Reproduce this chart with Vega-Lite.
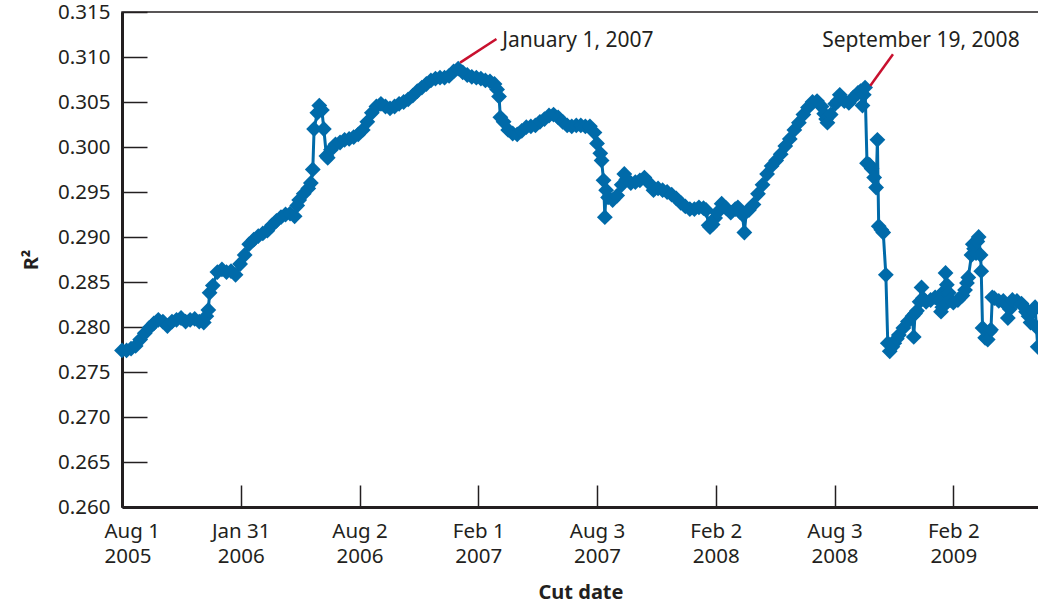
{
  "$schema": "https://vega.github.io/schema/vega-lite/v6.json",
  "width": 917,
  "height": 495,
  "autosize": {"type": "none"},
  "padding": {"left": 122, "top": 12, "right": 0, "bottom": 99},
  "background": "white",
  "config": {
    "font": "Noto Sans",
    "view": {"stroke": "#231f20", "strokeWidth": 1.5},
    "axis": {
      "labelFont": "Noto Sans",
      "labelFontSize": 20.5,
      "labelColor": "#231f20",
      "titleFont": "Noto Sans",
      "titleFontSize": 20,
      "titleFontWeight": "bold",
      "titleColor": "#231f20",
      "domainColor": "#231f20",
      "domainWidth": 3,
      "tickColor": "#231f20",
      "tickWidth": 1.5,
      "grid": false
    }
  },
  "datasets": {
    "series": [
      {"date": "2005-08-01", "r2": 0.2774},
      {"date": "2005-08-08", "r2": 0.2774},
      {"date": "2005-08-15", "r2": 0.2776},
      {"date": "2005-08-22", "r2": 0.2779},
      {"date": "2005-08-29", "r2": 0.2786},
      {"date": "2005-09-05", "r2": 0.2793},
      {"date": "2005-09-12", "r2": 0.2799},
      {"date": "2005-09-19", "r2": 0.2804},
      {"date": "2005-09-26", "r2": 0.2808},
      {"date": "2005-10-03", "r2": 0.2806},
      {"date": "2005-10-10", "r2": 0.2801},
      {"date": "2005-10-17", "r2": 0.2806},
      {"date": "2005-10-24", "r2": 0.2808},
      {"date": "2005-10-31", "r2": 0.2810},
      {"date": "2005-11-07", "r2": 0.2806},
      {"date": "2005-11-14", "r2": 0.2808},
      {"date": "2005-11-21", "r2": 0.2809},
      {"date": "2005-11-28", "r2": 0.2806},
      {"date": "2005-12-05", "r2": 0.2805},
      {"date": "2005-12-09", "r2": 0.2812},
      {"date": "2005-12-12", "r2": 0.2819},
      {"date": "2005-12-14", "r2": 0.2838},
      {"date": "2005-12-19", "r2": 0.2846},
      {"date": "2005-12-26", "r2": 0.2861},
      {"date": "2006-01-02", "r2": 0.2864},
      {"date": "2006-01-09", "r2": 0.2861},
      {"date": "2006-01-16", "r2": 0.2862},
      {"date": "2006-01-23", "r2": 0.2858},
      {"date": "2006-01-30", "r2": 0.2870},
      {"date": "2006-02-06", "r2": 0.2880},
      {"date": "2006-02-13", "r2": 0.2892},
      {"date": "2006-02-20", "r2": 0.2897},
      {"date": "2006-02-27", "r2": 0.2901},
      {"date": "2006-03-06", "r2": 0.2904},
      {"date": "2006-03-13", "r2": 0.2907},
      {"date": "2006-03-20", "r2": 0.2913},
      {"date": "2006-03-27", "r2": 0.2918},
      {"date": "2006-04-03", "r2": 0.2922},
      {"date": "2006-04-10", "r2": 0.2925},
      {"date": "2006-04-17", "r2": 0.2926},
      {"date": "2006-04-24", "r2": 0.2923},
      {"date": "2006-04-28", "r2": 0.2935},
      {"date": "2006-05-01", "r2": 0.2941},
      {"date": "2006-05-08", "r2": 0.2948},
      {"date": "2006-05-15", "r2": 0.2954},
      {"date": "2006-05-19", "r2": 0.2960},
      {"date": "2006-05-22", "r2": 0.2975},
      {"date": "2006-05-24", "r2": 0.3020},
      {"date": "2006-05-29", "r2": 0.3038},
      {"date": "2006-06-01", "r2": 0.3046},
      {"date": "2006-06-05", "r2": 0.3041},
      {"date": "2006-06-08", "r2": 0.3020},
      {"date": "2006-06-12", "r2": 0.2990},
      {"date": "2006-06-14", "r2": 0.2988},
      {"date": "2006-06-19", "r2": 0.2997},
      {"date": "2006-06-26", "r2": 0.3003},
      {"date": "2006-07-03", "r2": 0.3005},
      {"date": "2006-07-10", "r2": 0.3008},
      {"date": "2006-07-17", "r2": 0.3009},
      {"date": "2006-07-24", "r2": 0.3011},
      {"date": "2006-07-31", "r2": 0.3014},
      {"date": "2006-08-07", "r2": 0.3019},
      {"date": "2006-08-14", "r2": 0.3028},
      {"date": "2006-08-21", "r2": 0.3038},
      {"date": "2006-08-28", "r2": 0.3045},
      {"date": "2006-09-04", "r2": 0.3048},
      {"date": "2006-09-11", "r2": 0.3045},
      {"date": "2006-09-18", "r2": 0.3043},
      {"date": "2006-09-25", "r2": 0.3045},
      {"date": "2006-10-02", "r2": 0.3048},
      {"date": "2006-10-09", "r2": 0.3050},
      {"date": "2006-10-16", "r2": 0.3053},
      {"date": "2006-10-23", "r2": 0.3057},
      {"date": "2006-10-30", "r2": 0.3062},
      {"date": "2006-11-06", "r2": 0.3066},
      {"date": "2006-11-13", "r2": 0.3070},
      {"date": "2006-11-20", "r2": 0.3074},
      {"date": "2006-11-27", "r2": 0.3076},
      {"date": "2006-12-04", "r2": 0.3077},
      {"date": "2006-12-11", "r2": 0.3077},
      {"date": "2006-12-18", "r2": 0.3079},
      {"date": "2006-12-25", "r2": 0.3084},
      {"date": "2007-01-01", "r2": 0.3087},
      {"date": "2007-01-08", "r2": 0.3083},
      {"date": "2007-01-15", "r2": 0.3080},
      {"date": "2007-01-22", "r2": 0.3078},
      {"date": "2007-01-29", "r2": 0.3077},
      {"date": "2007-02-05", "r2": 0.3076},
      {"date": "2007-02-12", "r2": 0.3074},
      {"date": "2007-02-19", "r2": 0.3073},
      {"date": "2007-02-26", "r2": 0.3070},
      {"date": "2007-03-02", "r2": 0.3064},
      {"date": "2007-03-05", "r2": 0.3056},
      {"date": "2007-03-07", "r2": 0.3033},
      {"date": "2007-03-12", "r2": 0.3028},
      {"date": "2007-03-19", "r2": 0.3019},
      {"date": "2007-03-26", "r2": 0.3015},
      {"date": "2007-04-02", "r2": 0.3014},
      {"date": "2007-04-09", "r2": 0.3018},
      {"date": "2007-04-16", "r2": 0.3022},
      {"date": "2007-04-23", "r2": 0.3023},
      {"date": "2007-04-30", "r2": 0.3024},
      {"date": "2007-05-07", "r2": 0.3028},
      {"date": "2007-05-14", "r2": 0.3031},
      {"date": "2007-05-21", "r2": 0.3035},
      {"date": "2007-05-28", "r2": 0.3036},
      {"date": "2007-06-04", "r2": 0.3033},
      {"date": "2007-06-11", "r2": 0.3028},
      {"date": "2007-06-18", "r2": 0.3024},
      {"date": "2007-06-25", "r2": 0.3023},
      {"date": "2007-07-02", "r2": 0.3024},
      {"date": "2007-07-09", "r2": 0.3024},
      {"date": "2007-07-16", "r2": 0.3023},
      {"date": "2007-07-23", "r2": 0.3023},
      {"date": "2007-07-30", "r2": 0.3016},
      {"date": "2007-08-03", "r2": 0.3004},
      {"date": "2007-08-08", "r2": 0.2993},
      {"date": "2007-08-10", "r2": 0.2985},
      {"date": "2007-08-13", "r2": 0.2963},
      {"date": "2007-08-15", "r2": 0.2922},
      {"date": "2007-08-17", "r2": 0.2952},
      {"date": "2007-08-20", "r2": 0.2944},
      {"date": "2007-08-27", "r2": 0.2941},
      {"date": "2007-09-03", "r2": 0.2946},
      {"date": "2007-09-10", "r2": 0.2958},
      {"date": "2007-09-14", "r2": 0.2970},
      {"date": "2007-09-17", "r2": 0.2964},
      {"date": "2007-09-24", "r2": 0.2960},
      {"date": "2007-10-01", "r2": 0.2961},
      {"date": "2007-10-08", "r2": 0.2963},
      {"date": "2007-10-15", "r2": 0.2966},
      {"date": "2007-10-22", "r2": 0.2960},
      {"date": "2007-10-29", "r2": 0.2952},
      {"date": "2007-11-05", "r2": 0.2954},
      {"date": "2007-11-12", "r2": 0.2952},
      {"date": "2007-11-19", "r2": 0.2950},
      {"date": "2007-11-26", "r2": 0.2947},
      {"date": "2007-12-03", "r2": 0.2943},
      {"date": "2007-12-10", "r2": 0.2938},
      {"date": "2007-12-17", "r2": 0.2934},
      {"date": "2007-12-24", "r2": 0.2931},
      {"date": "2007-12-31", "r2": 0.2931},
      {"date": "2008-01-07", "r2": 0.2933},
      {"date": "2008-01-14", "r2": 0.2932},
      {"date": "2008-01-18", "r2": 0.2930},
      {"date": "2008-01-22", "r2": 0.2913},
      {"date": "2008-01-24", "r2": 0.2911},
      {"date": "2008-01-28", "r2": 0.2914},
      {"date": "2008-02-01", "r2": 0.2921},
      {"date": "2008-02-04", "r2": 0.2927},
      {"date": "2008-02-11", "r2": 0.2937},
      {"date": "2008-02-18", "r2": 0.2932},
      {"date": "2008-02-25", "r2": 0.2927},
      {"date": "2008-03-03", "r2": 0.2931},
      {"date": "2008-03-07", "r2": 0.2933},
      {"date": "2008-03-10", "r2": 0.2928},
      {"date": "2008-03-14", "r2": 0.2925},
      {"date": "2008-03-17", "r2": 0.2905},
      {"date": "2008-03-20", "r2": 0.2928},
      {"date": "2008-03-24", "r2": 0.2930},
      {"date": "2008-03-31", "r2": 0.2936},
      {"date": "2008-04-07", "r2": 0.2948},
      {"date": "2008-04-14", "r2": 0.2958},
      {"date": "2008-04-21", "r2": 0.2970},
      {"date": "2008-04-28", "r2": 0.2979},
      {"date": "2008-05-05", "r2": 0.2985},
      {"date": "2008-05-12", "r2": 0.2992},
      {"date": "2008-05-19", "r2": 0.3001},
      {"date": "2008-05-26", "r2": 0.3009},
      {"date": "2008-06-02", "r2": 0.3019},
      {"date": "2008-06-09", "r2": 0.3027},
      {"date": "2008-06-16", "r2": 0.3036},
      {"date": "2008-06-23", "r2": 0.3044},
      {"date": "2008-06-30", "r2": 0.3050},
      {"date": "2008-07-07", "r2": 0.3051},
      {"date": "2008-07-14", "r2": 0.3045},
      {"date": "2008-07-18", "r2": 0.3037},
      {"date": "2008-07-21", "r2": 0.3031},
      {"date": "2008-07-23", "r2": 0.3027},
      {"date": "2008-07-28", "r2": 0.3036},
      {"date": "2008-08-04", "r2": 0.3048},
      {"date": "2008-08-08", "r2": 0.3051},
      {"date": "2008-08-11", "r2": 0.3058},
      {"date": "2008-08-18", "r2": 0.3051},
      {"date": "2008-08-25", "r2": 0.3049},
      {"date": "2008-09-01", "r2": 0.3055},
      {"date": "2008-09-08", "r2": 0.3060},
      {"date": "2008-09-12", "r2": 0.3062},
      {"date": "2008-09-15", "r2": 0.3046},
      {"date": "2008-09-17", "r2": 0.3058},
      {"date": "2008-09-19", "r2": 0.3066},
      {"date": "2008-09-22", "r2": 0.2982},
      {"date": "2008-09-26", "r2": 0.2980},
      {"date": "2008-09-29", "r2": 0.2976},
      {"date": "2008-10-03", "r2": 0.2966},
      {"date": "2008-10-06", "r2": 0.2955},
      {"date": "2008-10-08", "r2": 0.3008},
      {"date": "2008-10-10", "r2": 0.2912},
      {"date": "2008-10-14", "r2": 0.2908},
      {"date": "2008-10-17", "r2": 0.2905},
      {"date": "2008-10-21", "r2": 0.2858},
      {"date": "2008-10-24", "r2": 0.2782},
      {"date": "2008-10-27", "r2": 0.2773},
      {"date": "2008-10-31", "r2": 0.2778},
      {"date": "2008-11-03", "r2": 0.2782},
      {"date": "2008-11-07", "r2": 0.2787},
      {"date": "2008-11-10", "r2": 0.2791},
      {"date": "2008-11-17", "r2": 0.2799},
      {"date": "2008-11-24", "r2": 0.2806},
      {"date": "2008-12-01", "r2": 0.2812},
      {"date": "2008-12-03", "r2": 0.2789},
      {"date": "2008-12-05", "r2": 0.2815},
      {"date": "2008-12-08", "r2": 0.2818},
      {"date": "2008-12-12", "r2": 0.2828},
      {"date": "2008-12-15", "r2": 0.2844},
      {"date": "2008-12-17", "r2": 0.2832},
      {"date": "2008-12-22", "r2": 0.2828},
      {"date": "2008-12-29", "r2": 0.2830},
      {"date": "2009-01-05", "r2": 0.2833},
      {"date": "2009-01-09", "r2": 0.2832},
      {"date": "2009-01-12", "r2": 0.2829},
      {"date": "2009-01-14", "r2": 0.2817},
      {"date": "2009-01-16", "r2": 0.2822},
      {"date": "2009-01-19", "r2": 0.2840},
      {"date": "2009-01-21", "r2": 0.2860},
      {"date": "2009-01-23", "r2": 0.2847},
      {"date": "2009-01-26", "r2": 0.2838},
      {"date": "2009-01-28", "r2": 0.2830},
      {"date": "2009-02-02", "r2": 0.2827},
      {"date": "2009-02-09", "r2": 0.2830},
      {"date": "2009-02-16", "r2": 0.2835},
      {"date": "2009-02-20", "r2": 0.2841},
      {"date": "2009-02-23", "r2": 0.2849},
      {"date": "2009-02-25", "r2": 0.2855},
      {"date": "2009-03-02", "r2": 0.2880},
      {"date": "2009-03-04", "r2": 0.2892},
      {"date": "2009-03-06", "r2": 0.2887},
      {"date": "2009-03-09", "r2": 0.2882},
      {"date": "2009-03-11", "r2": 0.2895},
      {"date": "2009-03-13", "r2": 0.2900},
      {"date": "2009-03-16", "r2": 0.2880},
      {"date": "2009-03-17", "r2": 0.2862},
      {"date": "2009-03-19", "r2": 0.2799},
      {"date": "2009-03-23", "r2": 0.2788},
      {"date": "2009-03-27", "r2": 0.2786},
      {"date": "2009-03-30", "r2": 0.2795},
      {"date": "2009-04-01", "r2": 0.2797},
      {"date": "2009-04-03", "r2": 0.2833},
      {"date": "2009-04-06", "r2": 0.2832},
      {"date": "2009-04-13", "r2": 0.2829},
      {"date": "2009-04-20", "r2": 0.2829},
      {"date": "2009-04-24", "r2": 0.2825},
      {"date": "2009-04-27", "r2": 0.2810},
      {"date": "2009-04-30", "r2": 0.2820},
      {"date": "2009-05-04", "r2": 0.2830},
      {"date": "2009-05-11", "r2": 0.2829},
      {"date": "2009-05-18", "r2": 0.2826},
      {"date": "2009-05-22", "r2": 0.2822},
      {"date": "2009-05-25", "r2": 0.2817},
      {"date": "2009-05-29", "r2": 0.2812},
      {"date": "2009-06-01", "r2": 0.2805},
      {"date": "2009-06-05", "r2": 0.2818},
      {"date": "2009-06-08", "r2": 0.2822},
      {"date": "2009-06-10", "r2": 0.2800},
      {"date": "2009-06-12", "r2": 0.2778}
    ],
    "callouts": [
      {"label": "January 1, 2007", "from": "2007-01-04", "fromR2": 0.30937, "to": "2007-03-01", "toR2": 0.3120, "textAt": "2007-03-10", "textR2": 0.3111},
      {"label": "September 19, 2008", "from": "2008-09-27", "fromR2": 0.30681, "to": "2008-11-01", "toR2": 0.3103, "textAt": "2008-07-15", "textR2": 0.3111}
    ]
  },
  "layer": [
    {
      "data": {"name": "series"},
      "mark": {
        "type": "line",
        "color": "#006aa9",
        "strokeWidth": 3,
        "point": {"shape": "diamond", "size": 250, "filled": true, "color": "#006aa9", "opacity": 1}
      },
      "encoding": {
        "x": {
          "field": "date",
          "type": "temporal",
          "scale": {"domain": [{"year": 2005, "month": 8, "date": 1, "utc": true}, {"year": 2009, "month": 6, "date": 14, "utc": true}]},
          "axis": {
            "title": "Cut date",
            "titlePadding": 16,
            "values": [
              {"year": 2005, "month": 8, "date": 1, "utc": true},
              {"year": 2006, "month": 1, "date": 31, "utc": true},
              {"year": 2006, "month": 8, "date": 2, "utc": true},
              {"year": 2007, "month": 2, "date": 1, "utc": true},
              {"year": 2007, "month": 8, "date": 3, "utc": true},
              {"year": 2008, "month": 2, "date": 2, "utc": true},
              {"year": 2008, "month": 8, "date": 3, "utc": true},
              {"year": 2009, "month": 2, "date": 2, "utc": true}
            ],
            "labelExpr": "[utcFormat(datum.value, '%b %-d'), utcFormat(datum.value, '%Y')]",
            "labelLineHeight": 25,
            "tickSize": -22,
            "labelPadding": 36,
            "labelFlush": 1,
            "labelFlushOffset": 18,
            "labelOverlap": false
          }
        },
        "y": {
          "field": "r2",
          "type": "quantitative",
          "scale": {"domain": [0.26, 0.315], "zero": false, "nice": false},
          "axis": {
            "title": "R²",
            "titlePadding": 16,
            "values": [0.26, 0.265, 0.27, 0.275, 0.28, 0.285, 0.29, 0.295, 0.3, 0.305, 0.31, 0.315],
            "format": ".3f",
            "tickSize": -25,
            "labelPadding": 37,
            "labelFlush": false,
            "labelOverlap": false
          }
        }
      }
    },
    {
      "data": {"name": "callouts"},
      "mark": {"type": "rule", "color": "#c8102e", "strokeWidth": 2.5},
      "encoding": {
        "x": {"field": "from", "type": "temporal"},
        "y": {"field": "fromR2", "type": "quantitative"},
        "x2": {"field": "to"},
        "y2": {"field": "toR2"}
      }
    },
    {
      "data": {"name": "callouts"},
      "mark": {"type": "text", "align": "left", "baseline": "alphabetic", "fontSize": 21, "font": "Noto Sans", "color": "#231f20"},
      "encoding": {
        "x": {"field": "textAt", "type": "temporal"},
        "y": {"field": "textR2", "type": "quantitative"},
        "text": {"field": "label"}
      }
    }
  ]
}
